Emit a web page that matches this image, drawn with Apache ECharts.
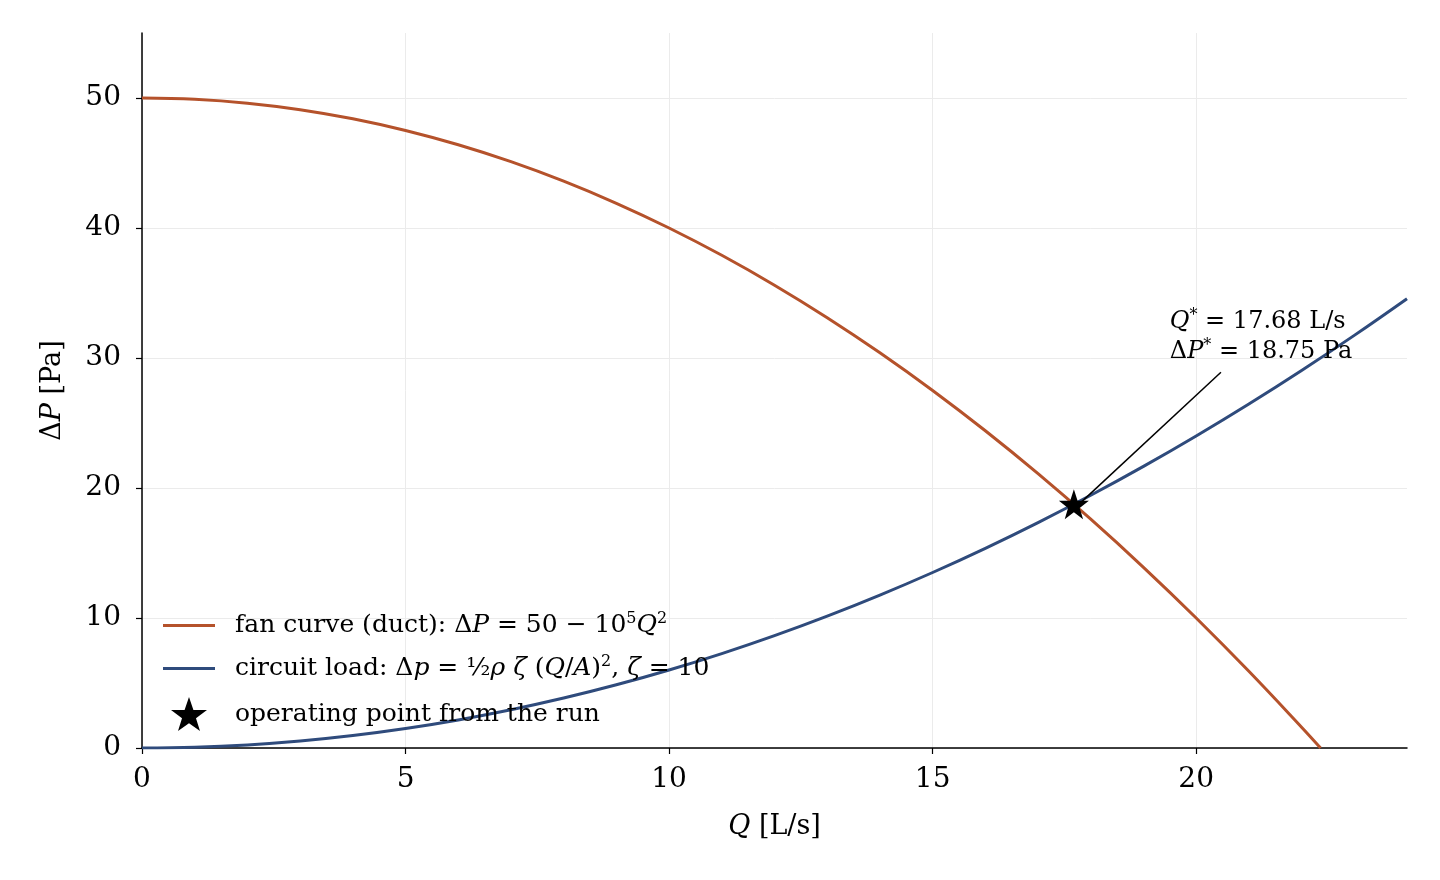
<!DOCTYPE html>
<html>
<head>
<meta charset="utf-8">
<script src="https://cdn.jsdelivr.net/npm/echarts@6/dist/echarts.min.js"></script>
<style>
  html, body { margin: 0; padding: 0; background: #fff; }
  #chart { width: 1440px; height: 880px; }
</style>
</head>
<body>
<div id="chart"></div>
<script>
// fan curve: Q [L/s] -> dP [Pa]
const qFan = [0, 1, 2, 3, 4, 5, 6, 7, 8, 9, 10, 11, 12, 13, 14, 15, 16, 17, 18, 19, 20, 21, 22, 22.36];
const dpFan = [50, 49.9, 49.6, 49.1, 48.4, 47.5, 46.4, 45.1, 43.6, 41.9, 40, 37.9, 35.6, 33.1, 30.4, 27.5, 24.4, 21.1, 17.6, 13.9, 10, 5.9, 1.6, 0];

// circuit load curve
const qLoad = [0, 1, 2, 3, 4, 5, 6, 7, 8, 9, 10, 11, 12, 13, 14, 15, 16, 17, 18, 19, 20, 21, 22, 23, 24];
const dpLoad = [0, 0.06, 0.24, 0.54, 0.96, 1.5, 2.16, 2.94, 3.84, 4.86, 6, 7.26, 8.64, 10.14, 11.76, 13.5, 15.36, 17.34, 19.44, 21.66, 24, 26.46, 29.04, 31.74, 34.56];

// operating point from the run
const opQ = 17.68;
const opDP = 18.75;

// annotation anchor (text) and arrow tail
const noteAt = [19.5, 31.6];
const arrowFrom = [20.47, 28.9];

const xTicks = [0, 5, 10, 15, 20];
const yTicks = [0, 10, 20, 30, 40, 50];

const FONT = 'DejaVu Serif';
const STAR = 'path://M50,0 L61.8,35.1 L98.1,35.1 L68.7,56.8 L79.4,91 L50,70 L20.6,91 L31.3,56.8 L1.9,35.1 L38.2,35.1 Z';
const BAR = 'path://M0,0 L100,0 L100,5.5 L0,5.5 Z';

function richSet(size) {
  return {
    m: { fontFamily: FONT, fontStyle: 'italic', fontSize: size, color: '#000' },
    sup: { fontFamily: FONT, fontSize: Math.round(size * 0.65), color: '#000', padding: [0, 0, Math.round(size * 0.5), 0] },
    t: { fontFamily: FONT, fontSize: size, color: '#000' },
    sp: { fontFamily: FONT, fontSize: size, width: 15 }
  };
}

function zip(a, b) {
  return a.map((v, i) => [v, b[i]]);
}

const chart = echarts.init(document.getElementById('chart'), null, { renderer: 'canvas' });

const option = {
  animation: false,
  backgroundColor: '#fff',
  textStyle: { fontFamily: FONT },
  grid: { left: 142, right: 33, top: 33, bottom: 132, containLabel: false },
  xAxis: {
    type: 'value', min: 0, max: 24, interval: 5,
    name: '{m|Q} [L/s]', nameLocation: 'middle', nameGap: 65,
    nameTextStyle: { fontFamily: FONT, fontSize: 27, color: '#000', rich: {
      m: { fontFamily: FONT, fontStyle: 'italic', fontSize: 27, color: '#000' } } },
    axisLine: { lineStyle: { color: '#000', width: 1.5 } },
    axisTick: { length: 6, lineStyle: { color: '#000', width: 1.2 }, customValues: xTicks },
    axisLabel: { fontFamily: FONT, fontSize: 28, color: '#000', margin: 18, customValues: xTicks },
    splitLine: { show: true, lineStyle: { color: '#ebebeb', width: 1 } }
  },
  yAxis: {
    type: 'value', min: 0, max: 55, interval: 10,
    name: 'Δ{m|P} [Pa]', nameLocation: 'middle', nameGap: 76, nameRotate: 90,
    nameTextStyle: { fontFamily: FONT, fontSize: 27, color: '#000', rich: {
      m: { fontFamily: FONT, fontStyle: 'italic', fontSize: 27, color: '#000' } } },
    axisLine: { show: true, lineStyle: { color: '#000', width: 1.5 } },
    axisTick: { show: true, length: 6, lineStyle: { color: '#000', width: 1.2 }, customValues: yTicks },
    axisLabel: { fontFamily: FONT, fontSize: 28, color: '#000', margin: 21, customValues: yTicks },
    splitLine: { show: true, lineStyle: { color: '#ebebeb', width: 1 } }
  },
  legend: {
    orient: 'vertical',
    left: 158, top: 606,
    itemWidth: 52, itemHeight: 34, itemGap: 16,
    textStyle: { fontFamily: FONT, fontSize: 25, color: '#000', rich: richSet(25) },
    data: [
      { name: 'fan', icon: BAR, itemStyle: { color: '#b5522b' } },
      { name: 'load', icon: BAR, itemStyle: { color: '#2f4b7c' } },
      { name: 'op', icon: STAR, itemStyle: { color: '#000', opacity: 1 } }
    ],
    formatter: function (name) {
      if (name === 'fan') return '{sp| }{t|fan curve (duct): Δ}{m|P}{t| = 50 − 10}{sup|5}{m|Q}{sup|2}';
      if (name === 'load') return '{sp| }{t|circuit load: Δ}{m|p}{t| = ½}{m|ρ ζ}{t| (}{m|Q}{t|/}{m|A}{t|)}{sup|2}{t|, }{m|ζ}{t| = 10}';
      return '{sp| }{t|operating point from the run}';
    }
  },
  series: [
    {
      name: 'fan', type: 'line', data: zip(qFan, dpFan), smooth: 0.4,
      symbol: 'none', color: '#b5522b',
      lineStyle: { color: '#b5522b', width: 3 }, z: 3
    },
    {
      name: 'load', type: 'line', data: zip(qLoad, dpLoad), smooth: 0.4,
      symbol: 'none', color: '#2f4b7c',
      lineStyle: { color: '#2f4b7c', width: 3 }, z: 3,
      markLine: {
        silent: true, animation: false,
        symbol: ['none', 'arrow'], symbolSize: [0, 12],
        lineStyle: { color: '#000', width: 1.5, type: 'solid' },
        label: { show: false },
        data: [[
          { coord: arrowFrom },
          { coord: [opQ + 0.15, opDP + 0.2] }
        ]]
      },
      markPoint: {
        silent: true, animation: false,
        symbol: 'circle', symbolSize: 0,
        label: {
          show: true, position: 'right', distance: 0, align: 'left',
          lineHeight: 30, color: '#000',
          formatter: '{m|Q}{sup|*}{t| = 17.68 L/s}\n{t|Δ}{m|P}{sup|*}{t| = 18.75 Pa}',
          rich: richSet(24)
        },
        data: [{ coord: noteAt }]
      }
    },
    {
      name: 'op', type: 'scatter', data: [[opQ, opDP]],
      symbol: STAR, symbolSize: 30, color: '#000',
      itemStyle: { color: '#000', opacity: 1 }, z: 5
    }
  ]
};

chart.setOption(option);
</script>
</body>
</html>
